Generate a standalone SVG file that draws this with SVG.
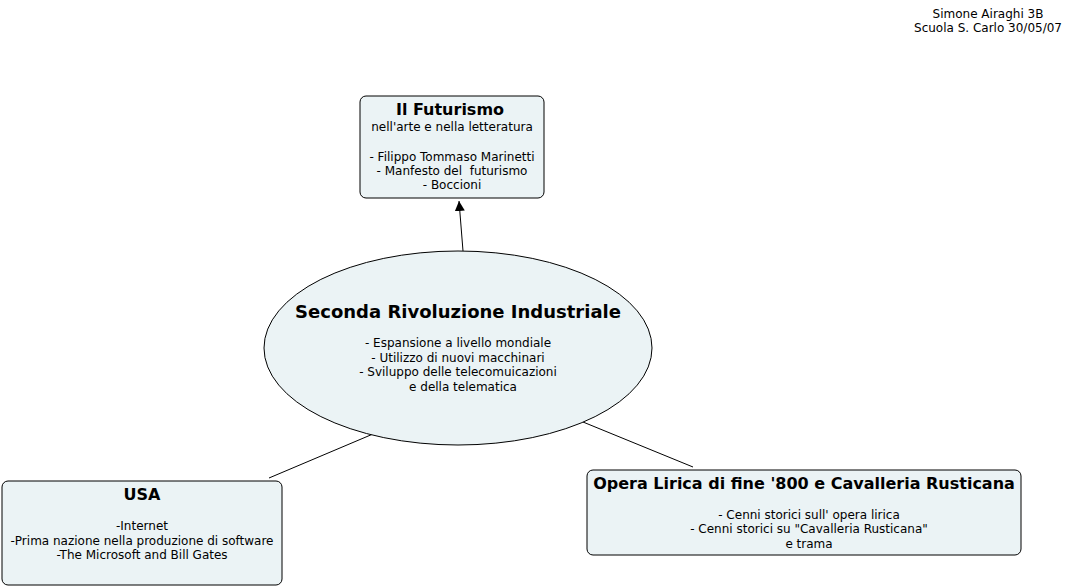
<svg xmlns="http://www.w3.org/2000/svg" width="1075" height="587" viewBox="0 0 1075 587">
<style>
.node{fill:#ebf3f5;stroke:#000;stroke-width:1}
.t{font-family:"DejaVu Sans",Verdana,sans-serif;font-size:12px;fill:#000;text-anchor:middle;white-space:pre}
.h{font-family:"DejaVu Sans",Verdana,sans-serif;font-weight:bold;font-size:16px;fill:#000;text-anchor:middle}
.c{stroke:#000;stroke-width:1;fill:none}
</style>
<defs>
<marker id="arr" viewBox="0 0 10 10" refX="10" refY="5" markerWidth="10" markerHeight="10" markerUnits="userSpaceOnUse" orient="auto">
<path d="M0,0 L10,5 L0,10 z" fill="#000"/>
</marker>
</defs>
<rect width="1075" height="587" fill="#fff"/>
<g id="connectors">
<line class="c" x1="463" y1="251" x2="459" y2="201" marker-end="url(#arr)"/>
<line class="c" x1="373" y1="434" x2="269" y2="478"/>
<line class="c" x1="583" y1="422" x2="693" y2="467"/>
</g>
<g id="author">
<text class="t" x="988" y="18">Simone Airaghi 3B</text>
<text class="t" x="988" y="32">Scuola S. Carlo 30/05/07</text>
</g>
<g id="futurismo">
<rect class="node" x="360" y="96" width="184" height="102" rx="6"/>
<text class="h" x="450" y="115">Il Futurismo</text>
<text class="t" x="452" y="131">nell'arte e nella letteratura</text>
<text class="t" x="452" y="161">- Filippo Tommaso Marinetti</text>
<text class="t" x="452" y="175" xml:space="preserve">- Manfesto del  futurismo</text>
<text class="t" x="452" y="189">- Boccioni</text>
</g>
<g id="rivoluzione">
<ellipse class="node" cx="458" cy="348" rx="194" ry="97"/>
<text class="h" x="458" y="318" style="font-size:18px">Seconda Rivoluzione Industriale</text>
<text class="t" x="458" y="347">- Espansione a livello mondiale</text>
<text class="t" x="458" y="362">- Utilizzo di nuovi macchinari</text>
<text class="t" x="458" y="376">- Sviluppo delle telecomuicazioni</text>
<text class="t" x="463" y="391">e della telematica</text>
</g>
<g id="usa">
<rect class="node" x="2" y="481" width="280" height="104" rx="6"/>
<text class="h" x="142" y="500">USA</text>
<text class="t" x="142" y="530">-Internet</text>
<text class="t" x="142" y="545">-Prima nazione nella produzione di software</text>
<text class="t" x="142" y="559">-The Microsoft and Bill Gates</text>
</g>
<g id="opera">
<rect class="node" x="587" y="470" width="434" height="85" rx="6"/>
<text class="h" x="804" y="489">Opera Lirica di fine '800 e Cavalleria Rusticana</text>
<text class="t" x="809" y="519">- Cenni storici sull' opera lirica</text>
<text class="t" x="809" y="533">- Cenni storici su "Cavalleria Rusticana"</text>
<text class="t" x="809" y="548">e trama</text>
</g>
</svg>
